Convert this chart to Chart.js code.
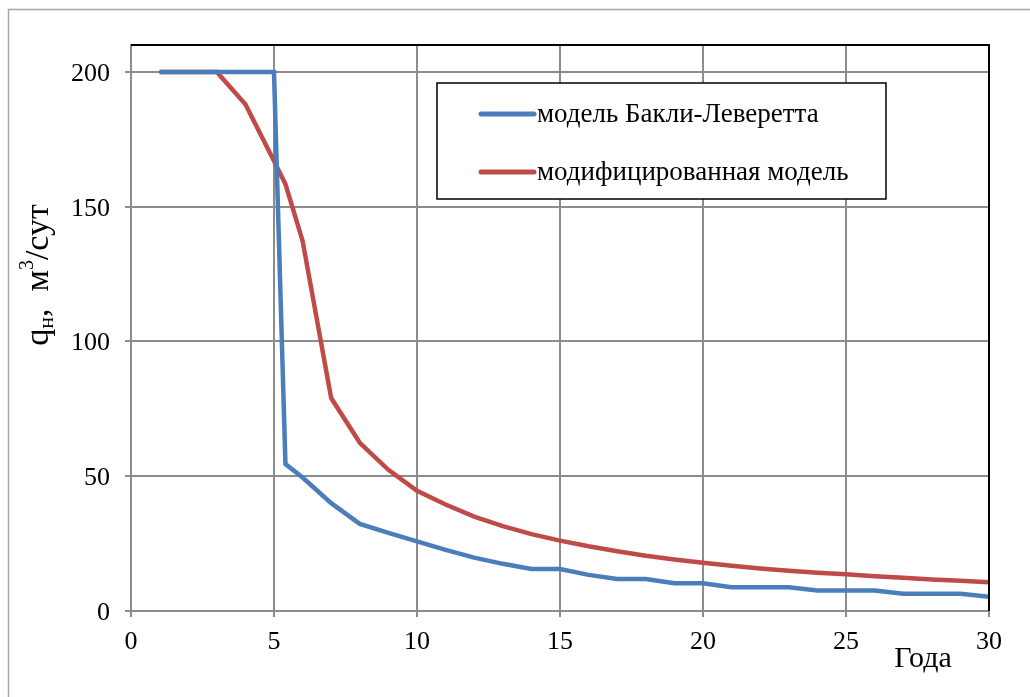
<!DOCTYPE html>
<html>
<head>
<meta charset="utf-8">
<script src="https://cdn.jsdelivr.net/npm/chart.js@4.4.1/dist/chart.umd.min.js"></script>
<style>
  html, body { margin: 0; padding: 0; background: #fff; }
  #wrap { position: relative; width: 1030px; height: 697px; }
</style>
</head>
<body>
<div id="wrap"><canvas id="rateChart" width="1030" height="697"></canvas></div>
<script>
// годы разработки
const years = [1, 2, 3, 4, 5, 5.4, 6, 7, 8, 9, 10, 11, 12, 13, 14, 15, 16, 17, 18, 19, 20,
               21, 22, 23, 24, 25, 26, 27, 28, 29, 30];
// дебит нефти, м3/сут
const buckleyLeverett = [200, 200, 200, 200, 200, 54.5, 49.5, 40, 32.3, 29, 25.8, 22.7, 19.8, 17.5, 15.6, 15.6,
                         13.4, 11.9, 11.9, 10.3, 10.3, 8.8, 8.8, 8.8, 7.6, 7.6, 7.6, 6.4, 6.4, 6.4, 5.3];
const modified = [200, 200, 200, 188, 167, 158.4, 137.3, 79, 62.4, 52.4, 44.6, 39.5, 35, 31.5, 28.5, 26.1,
                  24, 22.2, 20.5, 19.1, 17.9, 16.8, 15.8, 14.9, 14.2, 13.6, 12.9, 12.3, 11.7, 11.2, 10.7];
const seriesNames = ['модель Бакли-Леверетта', 'модифицированная модель'];
const xTicks = [0, 5, 10, 15, 20, 25, 30];
const yTicks = [0, 50, 100, 150, 200];

const serif = '"Liberation Serif", "DejaVu Serif", serif';
const gridGray = '#8c8c8c';

function toPoints(vals) {
    return years.map((x, i) => ({ x: x, y: vals[i] }));
}

// рамка, легенда и подписи осей
const decorations = {
    id: 'decorations',
    beforeDraw(chart) {
        const ctx = chart.ctx;
        ctx.save();
        ctx.fillStyle = '#fff';
        ctx.fillRect(0, 0, chart.width, chart.height);
        ctx.strokeStyle = '#a6a6a6';
        ctx.lineWidth = 1.5;
        ctx.beginPath();
        ctx.moveTo(8.5, chart.height);
        ctx.lineTo(8.5, 9.5);
        ctx.lineTo(chart.width, 9.5);
        ctx.stroke();
        ctx.restore();
    },
    afterDatasetsDraw(chart) {
        const ctx = chart.ctx;
        const a = chart.chartArea;
        ctx.save();

        // верхняя и правая границы области построения
        ctx.strokeStyle = '#000';
        ctx.lineWidth = 2;
        ctx.beginPath();
        ctx.moveTo(a.left, a.top);
        ctx.lineTo(a.right, a.top);
        ctx.lineTo(a.right, a.bottom);
        ctx.stroke();

        // легенда
        const lx = 437, ly = 83, lw = 449, lh = 116;
        ctx.fillStyle = '#fff';
        ctx.fillRect(lx, ly, lw, lh);
        ctx.strokeStyle = '#000';
        ctx.lineWidth = 1.5;
        ctx.strokeRect(lx, ly, lw, lh);
        ctx.font = '27px ' + serif;
        ctx.textBaseline = 'middle';
        ctx.textAlign = 'left';
        chart.data.datasets.forEach((ds, i) => {
            const y = 114 + i * 58;
            ctx.strokeStyle = ds.borderColor;
            ctx.lineWidth = 5;
            ctx.lineCap = 'round';
            ctx.beginPath();
            ctx.moveTo(481, y);
            ctx.lineTo(534, y);
            ctx.stroke();
            ctx.fillStyle = '#000';
            ctx.fillText(ds.label, 537, y + 1);
        });

        // подпись оси X
        ctx.font = '30px ' + serif;
        ctx.textAlign = 'center';
        ctx.textBaseline = 'alphabetic';
        ctx.fillText('Года', 923, 667);

        // подпись оси Y: qн, м3/сут
        ctx.translate(48, 275);
        ctx.rotate(-Math.PI / 2);
        const parts = [
            { t: 'q', size: 34, dy: 0 },
            { t: 'н', size: 22, dy: 5 },
            { t: ',  м', size: 34, dy: 0 },
            { t: '3', size: 20, dy: -15 },
            { t: '/сут', size: 34, dy: 0 }
        ];
        let total = 0;
        parts.forEach(p => {
            ctx.font = p.size + 'px ' + serif;
            p.w = ctx.measureText(p.t).width;
            total += p.w;
        });
        let x = -total / 2;
        ctx.textAlign = 'left';
        parts.forEach(p => {
            ctx.font = p.size + 'px ' + serif;
            ctx.fillText(p.t, x, p.dy);
            x += p.w;
        });
        ctx.restore();
    }
};

new Chart(document.getElementById('rateChart'), {
    type: 'line',
    data: {
        datasets: [
            {
                label: seriesNames[0],
                data: toPoints(buckleyLeverett),
                borderColor: '#4a7ebb',
                borderWidth: 4.5,
                pointRadius: 0,
                tension: 0
            },
            {
                label: seriesNames[1],
                data: toPoints(modified),
                borderColor: '#be4b48',
                borderWidth: 4.5,
                pointRadius: 0,
                tension: 0
            }
        ]
    },
    options: {
        responsive: false,
        animation: false,
        layout: { padding: { left: 0, top: 45, right: 41, bottom: 0 } },
        plugins: {
            legend: { display: false },
            tooltip: { enabled: false }
        },
        scales: {
            x: {
                type: 'linear',
                min: 0,
                max: 30,
                afterFit(scale) { scale.height = 86; },
                afterBuildTicks(scale) { scale.ticks = xTicks.map(v => ({ value: v })); },
                grid: { color: gridGray, lineWidth: 2, tickLength: 6 },
                border: { color: gridGray, width: 2 },
                ticks: {
                    color: '#000',
                    font: { family: serif, size: 26 },
                    padding: 10,
                    maxRotation: 0
                }
            },
            y: {
                min: 0,
                max: 210,
                afterFit(scale) { scale.width = 131; },
                afterBuildTicks(scale) { scale.ticks = yTicks.map(v => ({ value: v })); },
                grid: { color: gridGray, lineWidth: 2, tickLength: 6 },
                border: { color: gridGray, width: 2 },
                ticks: {
                    color: '#000',
                    font: { family: serif, size: 26 },
                    padding: 15,
                    labelOffset: 2
                }
            }
        }
    },
    plugins: [decorations]
});
</script>
</body>
</html>
